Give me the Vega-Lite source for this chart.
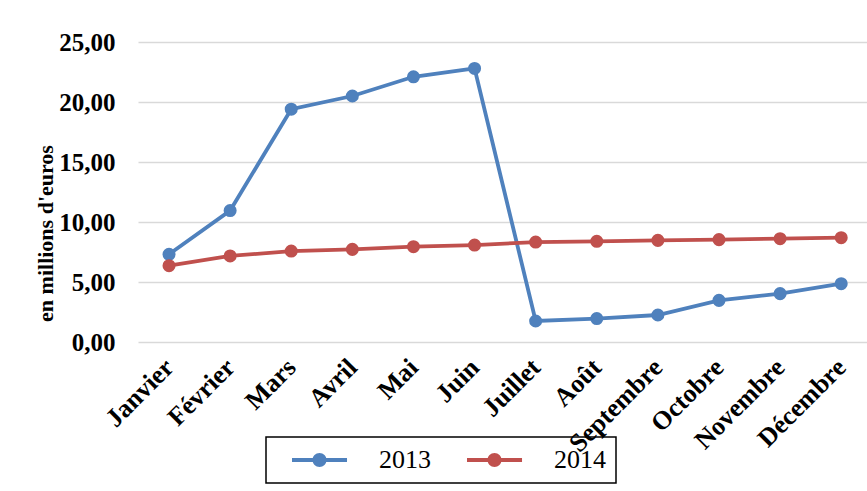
{
  "$schema": "https://vega.github.io/schema/vega-lite/v6.json",
  "autosize": {"type": "none"},
  "width": 729,
  "height": 300,
  "padding": {"left": 138, "top": 42, "right": 0, "bottom": 149},
  "background": "white",
  "config": {
    "locale": {"number": {"decimal": ",", "thousands": " ", "grouping": [3], "currency": ["", " €"]}},
    "view": {"stroke": null},
    "font": "Liberation Serif"
  },
  "data": {
    "values": [
      {"mois": "Janvier", "annee": "2013", "valeur": 7.31},
      {"mois": "Février", "annee": "2013", "valeur": 10.95},
      {"mois": "Mars", "annee": "2013", "valeur": 19.4},
      {"mois": "Avril", "annee": "2013", "valeur": 20.5},
      {"mois": "Mai", "annee": "2013", "valeur": 22.1},
      {"mois": "Juin", "annee": "2013", "valeur": 22.8},
      {"mois": "Juillet", "annee": "2013", "valeur": 1.75},
      {"mois": "Août", "annee": "2013", "valeur": 1.95},
      {"mois": "Septembre", "annee": "2013", "valeur": 2.25},
      {"mois": "Octobre", "annee": "2013", "valeur": 3.47},
      {"mois": "Novembre", "annee": "2013", "valeur": 4.03},
      {"mois": "Décembre", "annee": "2013", "valeur": 4.86},
      {"mois": "Janvier", "annee": "2014", "valeur": 6.36},
      {"mois": "Février", "annee": "2014", "valeur": 7.17},
      {"mois": "Mars", "annee": "2014", "valeur": 7.58},
      {"mois": "Avril", "annee": "2014", "valeur": 7.72},
      {"mois": "Mai", "annee": "2014", "valeur": 7.94},
      {"mois": "Juin", "annee": "2014", "valeur": 8.08},
      {"mois": "Juillet", "annee": "2014", "valeur": 8.33},
      {"mois": "Août", "annee": "2014", "valeur": 8.39},
      {"mois": "Septembre", "annee": "2014", "valeur": 8.47},
      {"mois": "Octobre", "annee": "2014", "valeur": 8.53},
      {"mois": "Novembre", "annee": "2014", "valeur": 8.61},
      {"mois": "Décembre", "annee": "2014", "valeur": 8.69}
    ]
  },
  "mark": {"type": "line", "strokeWidth": 3.8, "point": {"filled": true, "size": 170, "opacity": 1}},
  "encoding": {
    "x": {
      "field": "mois",
      "type": "ordinal",
      "sort": null,
      "scale": {"type": "point", "padding": 0.465, "align": 0.546},
      "axis": {
        "title": null,
        "labelAngle": -45,
        "labelAlign": "right",
        "labelBaseline": "middle",
        "labelFont": "Liberation Serif",
        "labelFontWeight": "bold",
        "labelFontSize": 26,
        "labelColor": "black",
        "labelPadding": 21,
        "labelDx": 2,
        "ticks": false,
        "tickSize": 0,
        "domain": false,
        "grid": false,
        "labelOverlap": false
      }
    },
    "y": {
      "field": "valeur",
      "type": "quantitative",
      "scale": {"domain": [0, 25], "nice": false, "zero": true},
      "axis": {
        "title": "en millions d'euros",
        "titleFont": "Liberation Serif",
        "titleFontWeight": "bold",
        "titleFontSize": 22,
        "titleColor": "black",
        "titleAngle": -90,
        "titleX": -93,
        "titleY": 191,
        "titleAlign": "center",
        "titleBaseline": "middle",
        "values": [0, 5, 10, 15, 20, 25],
        "format": ".2f",
        "labelFont": "Liberation Serif",
        "labelFontWeight": "bold",
        "labelFontSize": 25,
        "labelColor": "black",
        "labelPadding": 23,
        "ticks": false,
        "tickSize": 0,
        "domain": false,
        "grid": true,
        "gridColor": "#d9d9d9",
        "gridWidth": 1.5
      }
    },
    "color": {
      "field": "annee",
      "type": "nominal",
      "scale": {"domain": ["2013", "2014"], "range": ["#4f81bd", "#c0504d"]},
      "legend": {
        "title": null,
        "orient": "none",
        "legendX": 128,
        "legendY": 395,
        "direction": "horizontal",
        "strokeColor": "black",
        "padding": 10,
        "labelFont": "Liberation Serif",
        "labelFontSize": 26,
        "labelColor": "black",
        "labelOffset": 77,
        "columnPadding": 20,
        "symbolType": "M0.43,-0.27H8.29V0.27H0.43Z M5.36,0A1,1 0 1,1 3.36,0A1,1 0 1,1 5.36,0Z",
        "symbolSize": 196,
        "symbolStrokeWidth": 0,
        "encode": {
          "legend": {"update": {"strokeWidth": {"value": 1.5}}},
          "symbols": {"update": {"fill": {"scale": "color", "field": "value"}, "fillOpacity": {"value": 1}, "strokeWidth": {"value": 0}}}
        }
      }
    }
  }
}
